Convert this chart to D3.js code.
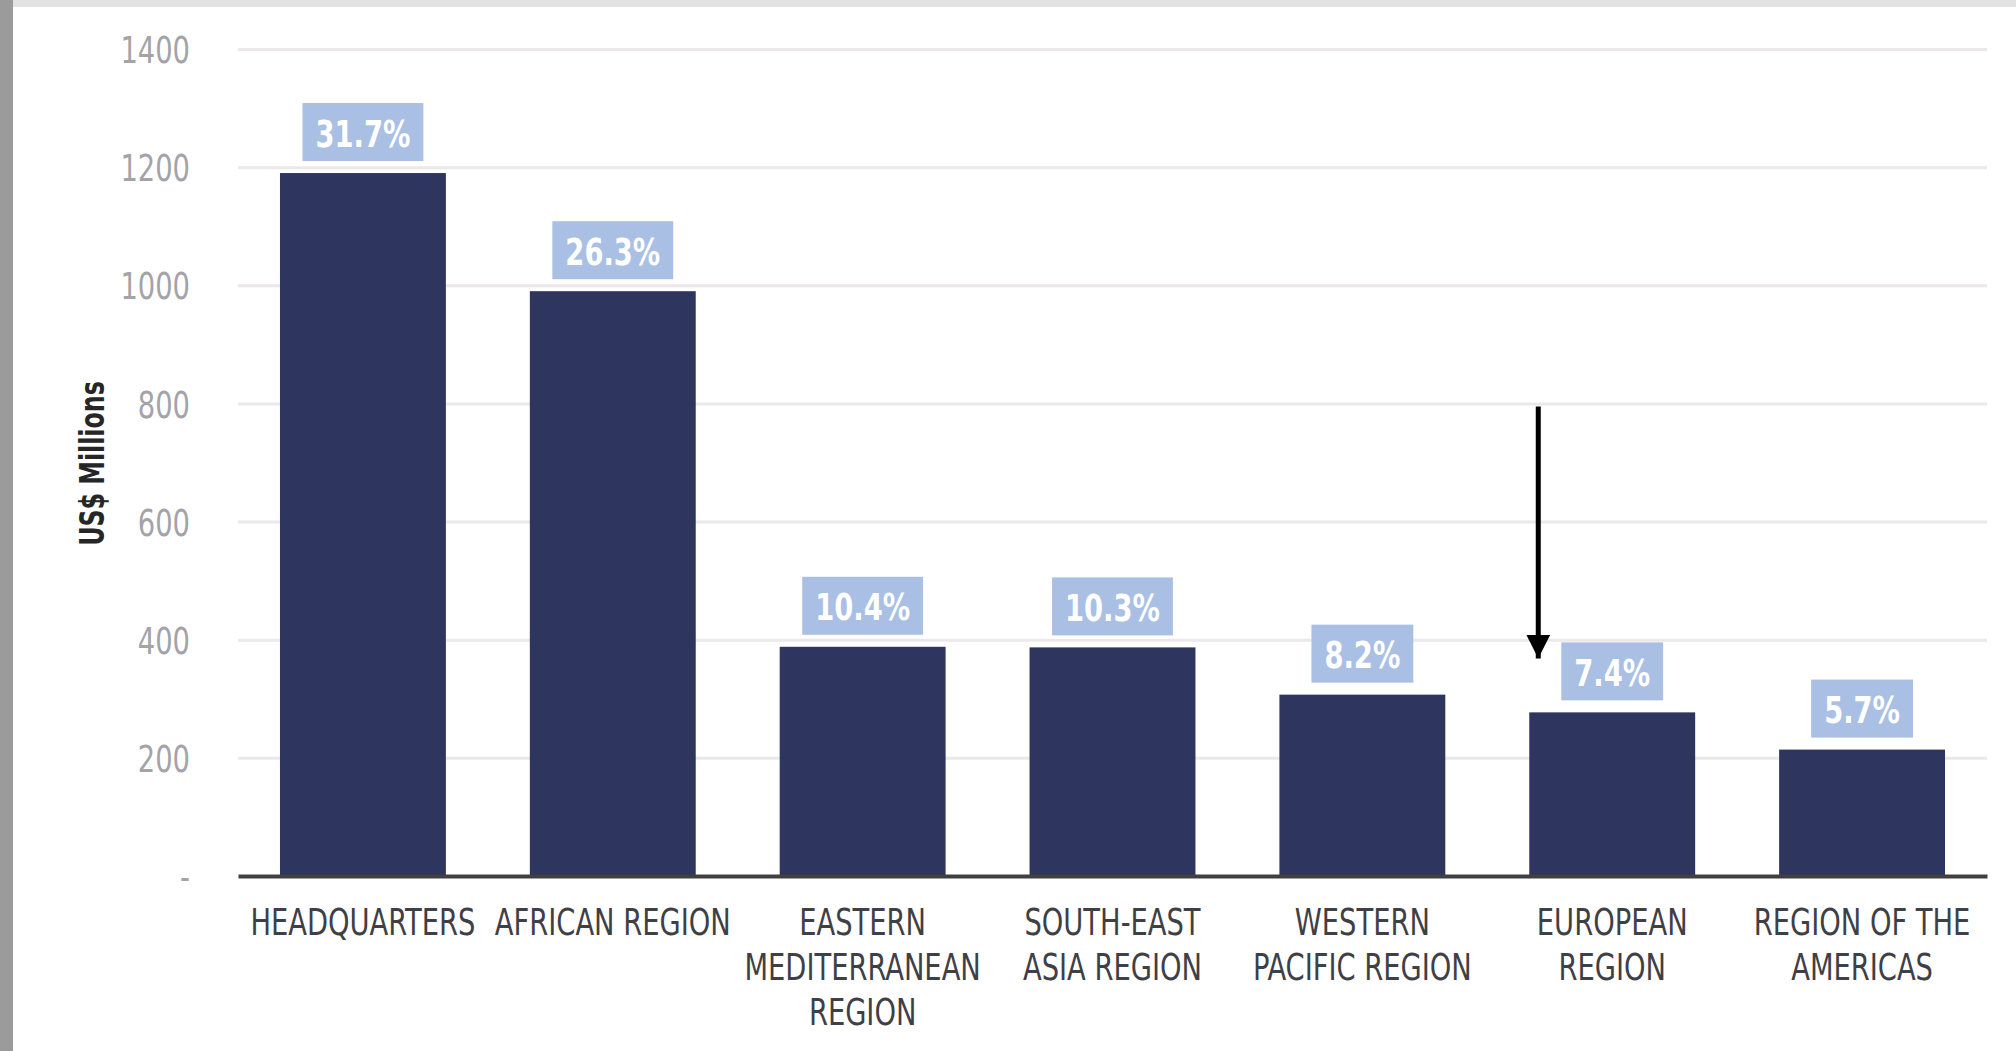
<!DOCTYPE html>
<html>
<head>
<meta charset="utf-8">
<script src="https://cdn.jsdelivr.net/npm/d3@7"></script>
<style>
  html, body { margin: 0; padding: 0; background: #ffffff; }
  svg { display: block; }
  .narrow { font-family: "Liberation Sans Narrow", "DejaVu Sans Condensed", "Roboto Condensed", "Liberation Sans", sans-serif; font-stretch: condensed; }
</style>
</head>
<body>
<svg id="chart" width="2016" height="1051"></svg>
<script>
// ---- data ----
const categories = ["HEADQUARTERS", "AFRICAN REGION", "EASTERN MEDITERRANEAN REGION", "SOUTH-EAST ASIA REGION", "WESTERN PACIFIC REGION", "EUROPEAN REGION", "REGION OF THE AMERICAS"];
const categoryLines = [["HEADQUARTERS"], ["AFRICAN REGION"], ["EASTERN", "MEDITERRANEAN", "REGION"], ["SOUTH-EAST", "ASIA REGION"], ["WESTERN", "PACIFIC REGION"], ["EUROPEAN", "REGION"], ["REGION OF THE", "AMERICAS"]];
const values = [1190, 990, 388, 387, 307, 277, 214];
const shares = ["31.7%", "26.3%", "10.4%", "10.3%", "8.2%", "7.4%", "5.7%"];
const yTicks = [0, 200, 400, 600, 800, 1000, 1200, 1400];
const yTitle = "US$ Millions";
const arrowCategory = "EUROPEAN REGION";
const arrowFrom = 795;
const arrowTo = 368;

(function () {
const SX = 0.8; // horizontal condensing of the typeface
const svg = d3.select("#chart");
const W = 2016, H = 1051;
const pLeft = 238, pRight = 1987, pTop = 49, pBottom = 876;

// frame decoration
svg.append("rect").attr("x", 0).attr("y", 0).attr("width", W).attr("height", H).attr("fill", "#ffffff");
svg.append("rect").attr("x", 0).attr("y", 0).attr("width", W).attr("height", 7).attr("fill", "#e2e2e2");
svg.append("rect").attr("x", 0).attr("y", 0).attr("width", 13).attr("height", H).attr("fill", "#9b9b9b");

const x = d3.scaleBand().domain(categories).range([pLeft, pRight]).paddingInner(0.336).paddingOuter(0.168);
const y = d3.scaleLinear().domain([0, 1400]).range([pBottom, pTop]);

// gridlines
const grid = svg.append("g").attr("transform", `translate(${pLeft},0)`)
  .call(d3.axisLeft(y).tickValues(yTicks.filter(d => d > 0)).tickSize(-(pRight - pLeft)).tickFormat(""));
grid.select(".domain").remove();
grid.selectAll(".tick line").attr("stroke", "#ece8ea").attr("stroke-width", 3);

// y tick labels
const yAxis = svg.append("g").attr("transform", `translate(190,0)`)
  .call(d3.axisLeft(y).tickValues(yTicks).tickSize(0).tickPadding(0).tickFormat(d => d === 0 ? "-" : d));
yAxis.select(".domain").remove();
yAxis.selectAll(".tick text")
  .attr("class", "narrow")
  .attr("font-size", 38)
  .attr("fill", "#a3a3a8")
  .attr("dy", "0.36em")
  .attr("transform", `scale(${SX},1)`);

// y title
svg.append("text")
  .attr("class", "narrow")
  .attr("transform", `translate(92,${(pTop + pBottom) / 2 + 1}) rotate(-90) scale(${SX},1)`)
  .attr("text-anchor", "middle")
  .attr("dy", "0.35em")
  .attr("font-size", 33)
  .attr("font-weight", "bold")
  .attr("fill", "#262626")
  .text(yTitle);

// bars
svg.append("g").selectAll("rect").data(categories).join("rect")
  .attr("x", d => x(d))
  .attr("width", x.bandwidth())
  .attr("y", (d, i) => y(values[i]))
  .attr("height", (d, i) => y(0) - y(values[i]))
  .attr("fill", "#2e3660");

// baseline axis
const xAxis = svg.append("g").attr("transform", `translate(0,${pBottom})`)
  .call(d3.axisBottom(x).tickSize(0).tickFormat(""));
xAxis.select(".domain").attr("stroke", "#404040").attr("stroke-width", 4);

// category labels
const catG = svg.append("g");
categories.forEach((c, i) => {
  const cx = x(c) + x.bandwidth() / 2;
  const t = catG.append("text")
    .attr("class", "narrow")
    .attr("text-anchor", "middle")
    .attr("font-size", 38)
    .attr("fill", "#3f3f46")
    .attr("transform", `translate(${cx},0) scale(${SX},1)`)
    .attr("x", 0)
    .attr("y", 935);
  categoryLines[i].forEach((ln, k) => {
    t.append("tspan").attr("x", 0).attr("dy", k === 0 ? 0 : 45).text(ln);
  });
});

// share labels
const lab = svg.append("g").selectAll("g").data(categories).join("g")
  .attr("transform", (d, i) => `translate(${x(d) + x.bandwidth() / 2},${y(values[i]) - 12})`);
lab.append("rect").attr("fill", "#a9c0e4");
lab.append("text")
  .attr("class", "narrow")
  .attr("text-anchor", "middle")
  .attr("font-size", 38)
  .attr("font-weight", "bold")
  .attr("fill", "#ffffff")
  .attr("y", -28)
  .attr("dy", "0.36em")
  .attr("transform", `scale(${SX},1)`)
  .text((d, i) => shares[i]);
lab.each(function() {
  const g = d3.select(this);
  const w = g.select("text").node().getComputedTextLength() * SX;
  g.select("rect").attr("x", -w / 2 - 13).attr("width", w + 26).attr("y", -58).attr("height", 58);
});

// arrow annotation
const ax = x(arrowCategory) + 9;
svg.append("defs").append("marker")
  .attr("id", "head").attr("viewBox", "0 0 10 10").attr("refX", 10).attr("refY", 5)
  .attr("markerUnits", "userSpaceOnUse").attr("markerWidth", 24).attr("markerHeight", 24)
  .attr("orient", "auto")
  .append("path").attr("d", "M0,0 L10,5 L0,10 Z").attr("fill", "#000");
svg.append("line")
  .attr("x1", ax).attr("x2", ax)
  .attr("y1", y(arrowFrom)).attr("y2", y(arrowTo))
  .attr("stroke", "#000").attr("stroke-width", 5)
  .attr("marker-end", "url(#head)");
})();
</script>
</body>
</html>
